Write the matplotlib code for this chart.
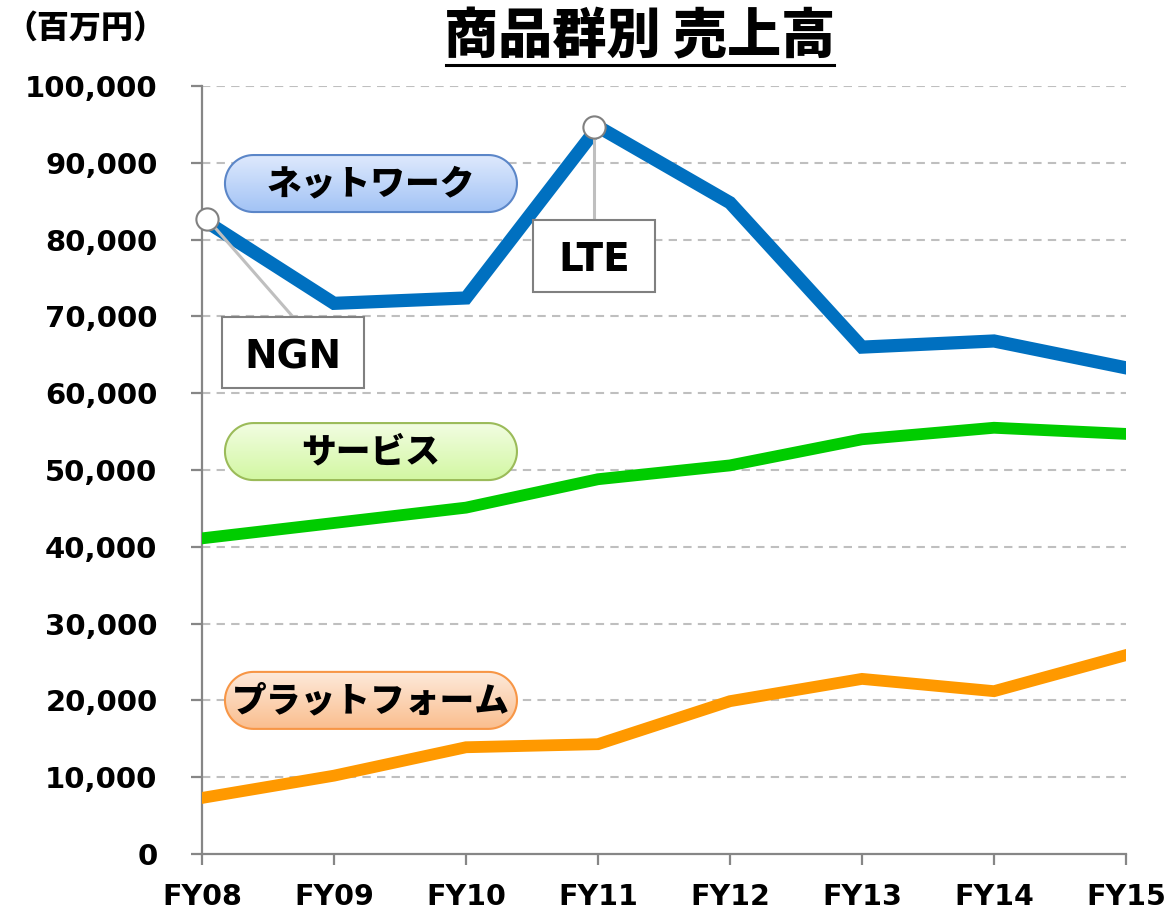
import matplotlib
matplotlib.use('Agg')
import matplotlib.pyplot as plt
import numpy as np
from matplotlib.patches import Polygon, Rectangle
from matplotlib.transforms import IdentityTransform
from matplotlib.lines import Line2D
from matplotlib.ticker import FuncFormatter

plt.rcParams['font.family'] = ['DejaVu Sans', 'Noto Sans CJK JP']
plt.rcParams['font.weight'] = 'bold'
JP = ['Noto Sans CJK JP', 'DejaVu Sans']

# data (百万円)
years = ['FY08', 'FY09', 'FY10', 'FY11', 'FY12', 'FY13', 'FY14', 'FY15']
network = [82700, 71700, 72400, 94700, 84800, 66000, 66800, 63300]
service = [41100, 43100, 45100, 48800, 50600, 54000, 55500, 54700]
platform = [7300, 10200, 13900, 14300, 19900, 22800, 21200, 25900]

fig = plt.figure(figsize=(11.73, 9.14), dpi=100)
ax = fig.add_axes([202/1173, 1-854/914, 924/1173, 768/914])

x = np.arange(len(years))
ax.plot(x, network, color='#0070c0', lw=9.5, solid_joinstyle='miter', zorder=5)
ax.plot(x, service, color='#00cc00', lw=8.5, solid_joinstyle='miter', zorder=5)
ax.plot(x, platform, color='#ff9900', lw=8.5, solid_joinstyle='miter', zorder=5)

ax.set_xlim(0, len(years) - 1)
ax.set_ylim(0, 100000)
ax.set_xticks(x)
ax.set_xticklabels(years)
ax.set_yticks(np.arange(0, 100001, 10000))
ax.yaxis.set_major_formatter(FuncFormatter(lambda v, p: f'{int(v):,}'))

for yv in range(10000, 100001, 10000):
    ax.axhline(yv, color='#bfbfbf', lw=1.5, ls=(0, (4, 3)), zorder=1)

for s in ['top', 'right']:
    ax.spines[s].set_visible(False)
for s in ['left', 'bottom']:
    ax.spines[s].set_color('#868686')
    ax.spines[s].set_linewidth(1.6)
ax.tick_params(axis='y', length=8, width=1.6, color='#868686', pad=24, labelsize=21)
ax.tick_params(axis='x', length=8, width=1.6, color='#868686', pad=13, labelsize=20.5)


def pill(xc, yc, w, h, top, bottom, edge, label):
    px, py = ax.transData.transform((xc, yc))
    r = h / 2
    a = np.linspace(-np.pi/2, np.pi/2, 40)
    right = np.column_stack([px + w/2 - r + r*np.cos(a), py + r*np.sin(a)])
    left = np.column_stack([px - w/2 + r - r*np.cos(a), py - r*np.sin(a)])
    patch = Polygon(np.vstack([right, left]), closed=True,
                    transform=IdentityTransform(), fc='none',
                    ec=edge, lw=1.5, zorder=4)
    ax.add_patch(patch)
    top = np.array(top) / 255
    bottom = np.array(bottom) / 255
    grad = top + np.linspace(0, 1, 100)[:, None, None] * (bottom - top)
    inv = ax.transData.inverted()
    x0, y0 = inv.transform((px - w/2, py - h/2))
    x1, y1 = inv.transform((px + w/2, py + h/2))
    im = ax.imshow(grad, extent=[x0, x1, y0, y1], aspect='auto', zorder=3,
                   interpolation='bilinear')
    im.set_clip_path(patch)
    ax.text(xc, yc, label, ha='center', va='center', fontsize=25,
            family=JP, weight='heavy', zorder=6)


def callout(xp, yp, xc, yc, w, h, label):
    px, py = ax.transData.transform((xp, yp))
    bx, by = ax.transData.transform((xc, yc))
    ax.add_line(Line2D([px, bx], [py, by + h/2], transform=IdentityTransform(),
                       color='#bfbfbf', lw=2.2, zorder=6))
    ax.add_patch(Rectangle((bx - w/2, by - h/2), w, h, transform=IdentityTransform(),
                           fc='white', ec='#808080', lw=1.5, zorder=7))
    ax.text(xc, yc - 600, label, ha='center', va='center', fontsize=28,
            weight='bold', zorder=8)
    ax.plot([xp], [yp], marker='o', ms=16, mfc='white', mec='#808080',
            mew=1.5, zorder=9, clip_on=False)


pill(1.28, 87300, 292, 57, (222, 233, 253), (162, 195, 245), '#5b86c8', 'ネットワーク')
pill(1.28, 52400, 292, 57, (242, 253, 226), (210, 247, 162), '#9bbb59', 'サービス')
pill(1.28, 20000, 292, 57, (253, 233, 218), (250, 190, 142), '#f79646', 'プラットフォーム')

callout(0.04, network[0], 0.69, 65300, 142, 71, 'NGN')
callout(2.97, network[3], 2.97, 77900, 122, 72, 'LTE')

ax.set_xlim(0, len(years) - 1)
ax.set_ylim(0, 100000)

t = fig.text(640/1173, 1 - 37/914, '商品群別 売上高', ha='center', va='center',
             fontsize=39, family=JP, weight='heavy')
fig.text(85/1173, 1 - 28/914, '（百万円）', ha='center', va='center',
         fontsize=23, family=JP, weight='heavy')

fig.canvas.draw()
bb = t.get_window_extent(fig.canvas.get_renderer())
uy = 914 - 65
fig.add_artist(Line2D([bb.x0 + 2, bb.x1 - 2], [uy, uy],
                      transform=IdentityTransform(), color='black', lw=2.2))

fig.savefig('out.png', dpi=100)
